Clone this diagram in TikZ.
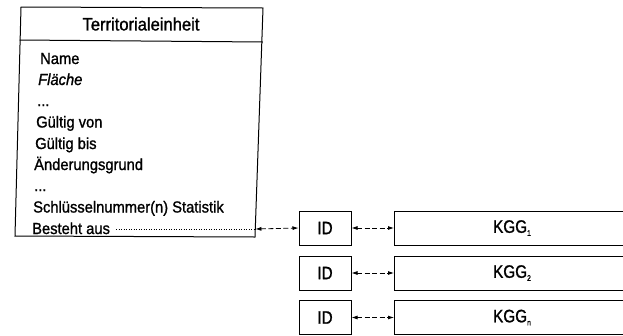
\documentclass[tikz,border=0pt]{standalone}
\usepackage{fontspec}
\setmainfont{Liberation Sans}[FakeStretch=0.92,FakeBold=1.2]
\newfontfamily\condfont{Liberation Sans}[FakeStretch=0.85,FakeBold=1.2]
\usetikzlibrary{arrows.meta}
\begin{document}
\begin{tikzpicture}[x=1pt,y=-1pt,
  frame/.style={line width=1pt},
  attr/.style={anchor=base west,inner sep=0pt,font=\fontsize{16}{16}\selectfont},
  idbox/.style={draw,line width=1pt,minimum width=52pt,minimum height=34pt,inner sep=0pt,font=\condfont\fontsize{18}{18}\selectfont},
  kggbox/.style={line width=1pt},
  link/.style={line width=0.8pt,dash pattern=on 5pt off 2.5pt,{Latex[length=6pt,width=4pt]}-{Latex[length=6pt,width=4pt]}},
  dotline/.style={line width=0.6pt,dash pattern=on 1pt off 1.5pt}]
\useasboundingbox (0,0) rectangle (623,335);
% main box (slightly skewed as in the scan)
\coordinate (tl) at (21,7);
\coordinate (tr) at (263,8);
\coordinate (br) at (255,237);
\coordinate (bl) at (15,236);
\coordinate (hl) at (19.6,40);
\coordinate (hr) at (262.8,42);
\draw[frame] (tl) -- (tr) -- (br) -- (bl) -- cycle;
\draw[frame] (hl) -- (hr);
\node[font=\fontsize{18}{18}\selectfont] (title) at (141,24) {Territorialeinheit};
\node[attr] (a1) at (40,64) {Name};
\node[attr] (a2) at (38,85) {\itshape Fläche};
\node[attr] (a3) at (37,106) {...};
\node[attr] (a4) at (36,127.5) {Gültig von};
\node[attr] (a5) at (35,149) {Gültig bis};
\node[attr] (a6) at (34,170) {Änderungsgrund};
\node[attr] (a7) at (34,191) {...};
\node[attr] (a8) at (33,212.5) {Schlüsselnummer(n) Statistik};
\node[attr] (a9) at (32,234) {Besteht aus};
\coordinate (exit) at (255.3,229);
\coordinate (dotstart) at ([xshift=6pt]a9.base east);
\draw[dotline] (dotstart |- exit) -- (exit);
% ID boxes
\node[idbox] (id1) at (325,228) {ID};
\node[idbox] (id2) at (325,273) {ID};
\node[idbox] (id3) at (325,317.5) {ID};
% KGG boxes (open to the right edge)
\foreach \i/\y/\s in {1/228/1,2/273/2,3/317.5/n}{
  \coordinate (k\i tl) at (394,\y-17);
  \coordinate (k\i bl) at (394,\y+17);
  \coordinate (k\i tr) at (623,\y-17);
  \coordinate (k\i br) at (623,\y+17);
  \draw[kggbox] (k\i tr) -- (k\i tl) -- (k\i bl) -- (k\i br);
  \node[font=\condfont\fontsize{18}{18}\selectfont] (kgg\i) at (512,\y) {KGG\raisebox{-3pt}{\fontsize{8}{8}\selectfont\s}};
  \coordinate (k\i w) at (394,\y);
  \draw[link] (id\i.east) -- (k\i w);
}
\draw[link] (exit) -- (id1.west);
\end{tikzpicture}
\end{document}
